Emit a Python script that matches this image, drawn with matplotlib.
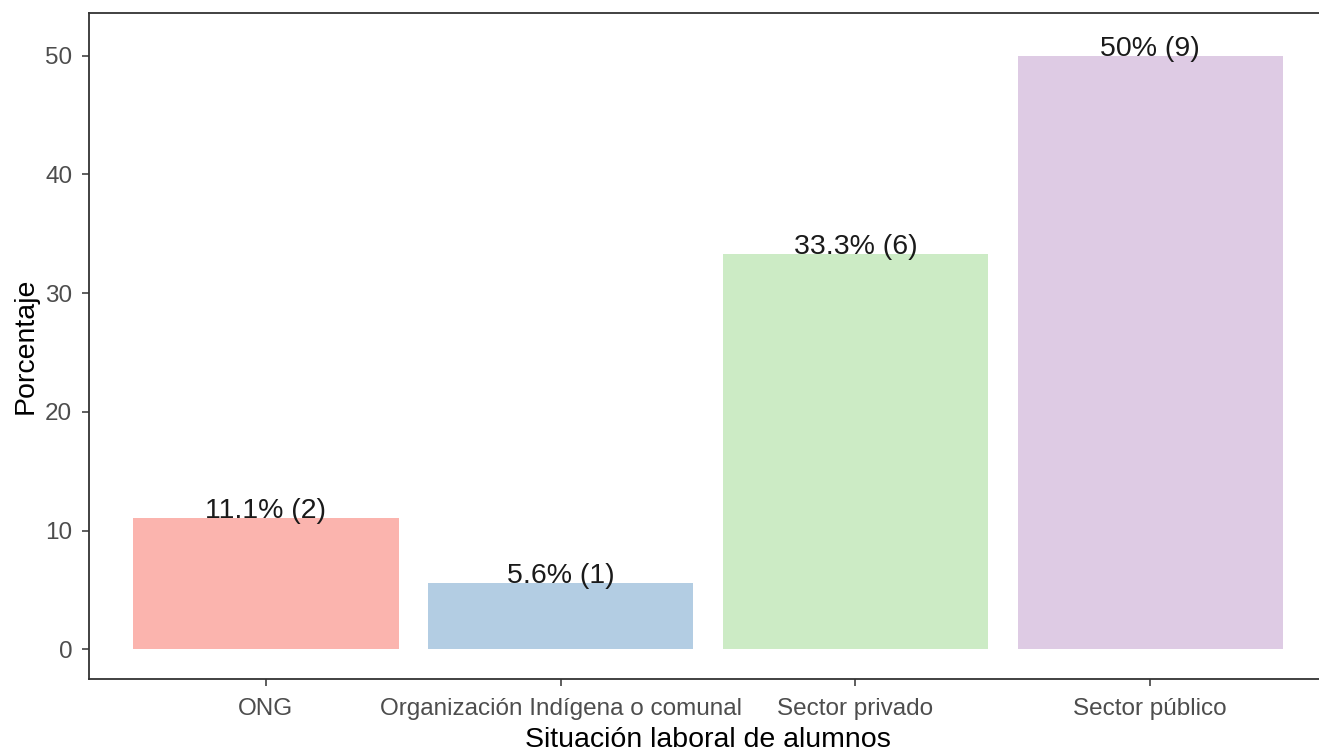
import matplotlib.pyplot as plt

categorias = ["ONG", "Organización Indígena o comunal", "Sector privado", "Sector público"]
porcentajes = [11.1, 5.6, 33.3, 50.0]
conteos = [2, 1, 6, 9]
etiquetas = ["11.1% (2)", "5.6% (1)", "33.3% (6)", "50% (9)"]
colores = ["#FBB4AE", "#B3CDE3", "#CCEBC5", "#DECBE4"]

plt.rcParams['font.family'] = ['Liberation Sans', 'DejaVu Sans']

W, H = 1319, 752
fig = plt.figure(figsize=(W / 100, H / 100), dpi=100)
ax = fig.add_axes([89 / W, (H - 679) / H, (1327 - 89) / W, (679 - 13) / H])

x = range(len(categorias))
ax.bar(x, porcentajes, width=0.9, color=colores)
for xi, v, lab in zip(x, porcentajes, etiquetas):
    ax.text(xi, v, lab, ha='center', va='baseline', fontsize=20.5, color='#1a1a1a')

ax.set_xlim(-0.6, len(categorias) - 0.4)
ax.set_ylim(-2.5, 53.6)
ax.set_yticks([0, 10, 20, 30, 40, 50])
ax.set_xticks(list(x))
ax.set_xticklabels(categorias)
ax.tick_params(labelsize=17.5, labelcolor='#4D4D4D', color='#333333', length=5, width=1.1)
ax.tick_params(axis='x', pad=9)
ax.tick_params(axis='y', pad=7)
ax.set_xlabel("Situación laboral de alumnos", fontsize=20.5, color='black', labelpad=5)
ax.set_ylabel("Porcentaje", fontsize=20.5, color='black', labelpad=5)
for s in ax.spines.values():
    s.set_color('#333333')
    s.set_linewidth(1.3)

fig.savefig("out.png", dpi=100)
